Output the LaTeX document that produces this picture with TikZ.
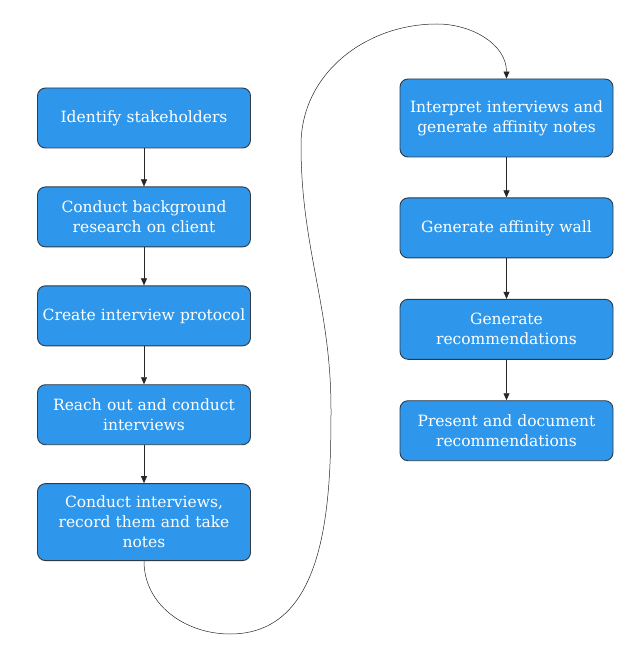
\documentclass[tikz,border=0pt]{standalone}
\usepackage{fontspec}
\setmainfont{DejaVu Serif}
\usetikzlibrary{positioning,arrows.meta}
\definecolor{boxblue}{HTML}{2E97EC}
\definecolor{boxedge}{HTML}{2F3A45}
\tikzset{stepbox/.style={shape=rectangle, rounded corners=8pt, fill=boxblue, draw=boxedge, line width=0.9pt, minimum width=213pt, minimum height=60pt, text width=209pt, align=center, text=white, inner sep=2pt, font=\fontsize{15.5}{20}\selectfont},
flowarrow/.style={draw=black!85, line width=0.6pt, -{Triangle[length=7pt,width=6pt]}}}
\begin{document}
\begin{tikzpicture}[x=1pt,y=1pt,node distance=38pt]
\useasboundingbox (0,0) rectangle (643,-668);
\node[style=stepbox] (stake) at (144,-118) {Identify stakeholders};
\node[style=stepbox, below=of stake] (research) {Conduct background\\research on client};
\node[style=stepbox, below=of research] (protocol) {Create interview protocol};
\node[style=stepbox, below=of protocol] (reach) {Reach out and conduct\\interviews};
\node[style=stepbox, below=of reach, minimum height=77pt] (record) {Conduct interviews,\\record them and take\\notes};
\node[style=stepbox, minimum height=78pt] (interpret) at (506.5,-118) {Interpret interviews and\\generate affinity notes};
\node[style=stepbox, below=40pt of interpret] (wall) {Generate affinity wall};
\node[style=stepbox, below=40.5pt of wall] (recs) {Generate\\recommendations};
\node[style=stepbox, below=40.5pt of recs] (present) {Present and document\\recommendations};
\draw[style=flowarrow] (stake) -- (research);
\draw[style=flowarrow] (research) -- (protocol);
\draw[style=flowarrow] (protocol) -- (reach);
\draw[style=flowarrow] (reach) -- (record);
\draw[style=flowarrow] (interpret) -- (wall);
\draw[style=flowarrow] (wall) -- (recs);
\draw[style=flowarrow] (recs) -- (present);
% long loop from the left column over to the right one
\coordinate (bend1) at (230,-634);
\coordinate (bend2) at (331,-410);
\coordinate (bend3) at (301,-145);
\coordinate (bend4) at (437,-24);
\draw[flowarrow, line width=0.5pt] (record.south) to [out=-90,in=180] (bend1) to [out=0,in=-90] (bend2) to [out=90,in=-90] (bend3) to [out=90,in=180] (bend4) to [out=0,in=90] (interpret.north);
\end{tikzpicture}
\end{document}
